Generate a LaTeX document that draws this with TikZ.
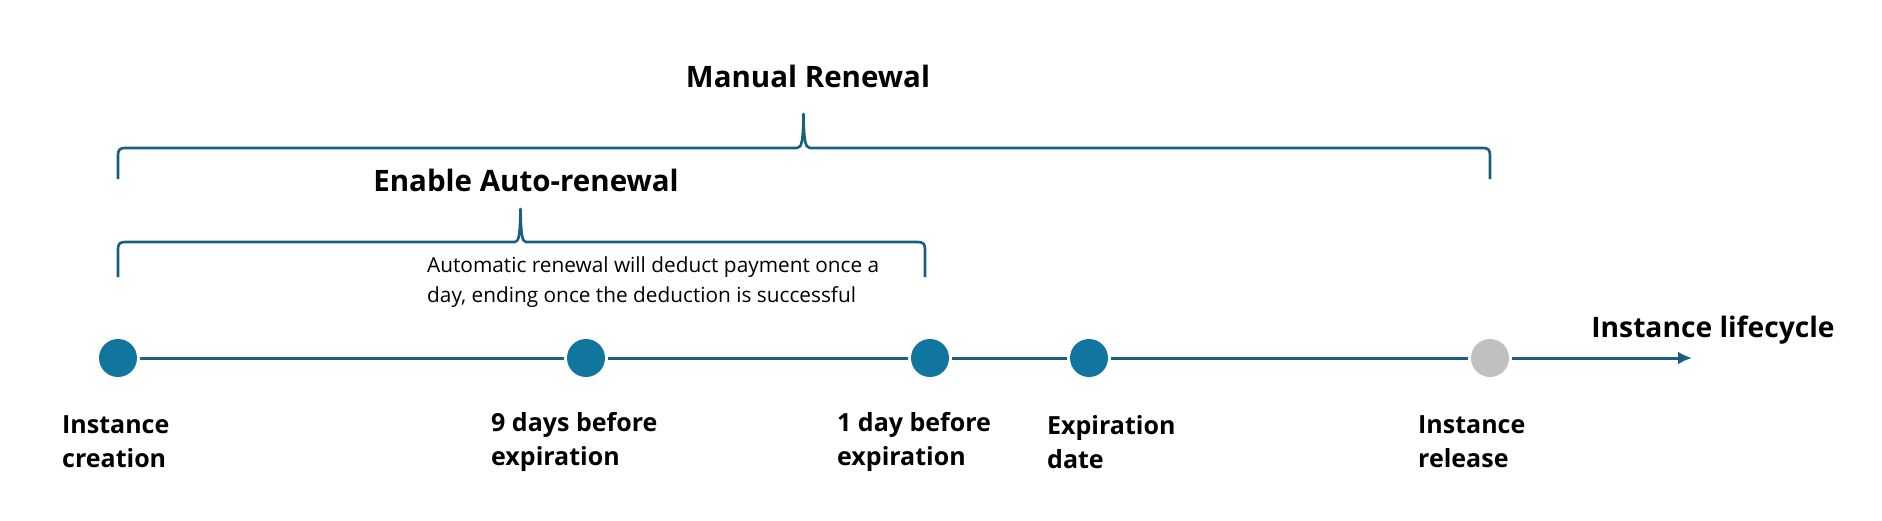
\documentclass[tikz,border=0pt]{standalone}
\usepackage{fontspec}
\setmainfont{Open Sans}
\usetikzlibrary{arrows.meta}
\definecolor{dotblue}{RGB}{16,118,160}
\definecolor{lineblue}{RGB}{25,95,128}
\definecolor{dotgrey}{RGB}{192,192,192}
\begin{document}
\begin{tikzpicture}[x=1pt,y=-1pt,
  dot/.style={circle,fill=dotblue,minimum size=38pt,inner sep=0pt,outer sep=3pt},
  greydot/.style={dot,fill=dotgrey},
  lbl/.style={anchor=west,align=left,font=\bfseries\fontsize{25}{34}\selectfont,inner sep=0pt},
  title/.style={font=\bfseries\fontsize{29.5}{32}\selectfont,inner sep=0pt},
  tline/.style={draw=lineblue,line width=3pt},
  brace/.style={draw=lineblue,line width=2.6pt,line join=round}
]
\useasboundingbox (0,0) rectangle (1882,520);
% timeline dots
\node[dot] (c1) at (118,358) {};
\node[dot] (c2) at (586,358) {};
\node[dot] (c3) at (930,358) {};
\node[dot] (c4) at (1089,358) {};
\node[greydot] (c5) at (1490,358) {};
\coordinate (end) at (1692,358);
\draw[tline] (c1) -- (c2);
\draw[tline] (c2) -- (c3);
\draw[tline] (c3) -- (c4);
\draw[tline] (c4) -- (c5);
\draw[tline,-{Latex[length=14pt,width=13pt]}] (c5) -- (end);
% labels
\node[lbl] (l1) at (62,442) {Instance\\creation};
\node[lbl] (l2) at (491,442) {9 days before\\expiration};
\node[lbl] (l3) at (837,442) {1 day before\\expiration};
\node[lbl] (l4) at (1047,442) {Expiration\\date};
\node[lbl] (l5) at (1418,442) {Instance\\release};
\node[font=\bfseries\fontsize{28.2}{32}\selectfont,inner sep=0pt] (life) at (1713,330) {Instance lifecycle};
% manual renewal brace
\draw[brace] (118,179) -- (118,155) .. controls (118,150) and (120,148) .. (125,148)
  -- (797,148) .. controls (802,148) and (803,140) .. (803.5,114)
  .. controls (804,140) and (805,148) .. (810,148)
  -- (1483,148) .. controls (1488,148) and (1490,150) .. (1490,155) -- (1490,179);
\node[title] (manual) at (808,76) {Manual Renewal};
% auto renewal brace
\draw[brace] (118,277) -- (118,249) .. controls (118,244) and (120,242) .. (125,242)
  -- (515,242) .. controls (519,242) and (520,234) .. (520.5,209)
  .. controls (521,234) and (522,242) .. (526,242)
  -- (918,242) .. controls (923,242) and (925,244) .. (925,249) -- (925,277);
\node[title] (auto) at (526,180) {Enable Auto-renewal};
\node[anchor=west,align=left,font=\fontsize{20.8}{30}\selectfont,inner sep=0pt] (note) at (427,282)
  {Automatic renewal will deduct payment once a\\day, ending once the deduction is successful};
\end{tikzpicture}
\end{document}
